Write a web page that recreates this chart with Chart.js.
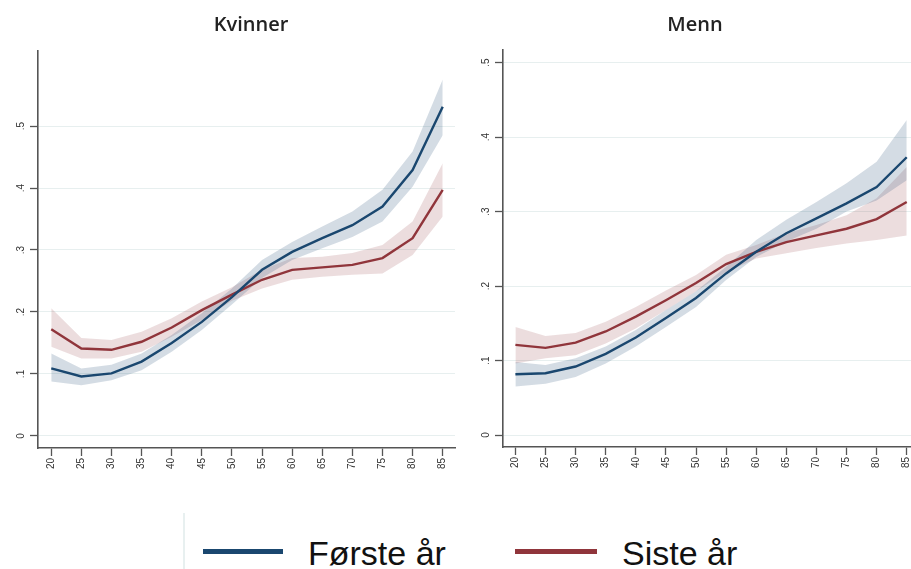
<!DOCTYPE html>
<html>
<head>
<meta charset="utf-8">
<script src="https://cdn.jsdelivr.net/npm/chart.js@4/dist/chart.umd.min.js"></script>
<style>
  html, body { margin: 0; padding: 0; background: #fff; }
  body { width: 911px; height: 569px; position: relative; overflow: hidden; }
  .cv { position: absolute; top: 0; }
  .title { position: absolute; font-family: "Open Sans", sans-serif; font-weight: 600; font-size: 20px; color: #222; white-space: nowrap; transform: translateX(-50%); }
  .legtxt { position: absolute; font-family: "Liberation Sans", Arial, sans-serif; font-size: 34px; color: #111; white-space: nowrap; line-height: 1; }
  .legline { position: absolute; height: 5px; }
  .divider { position: absolute; left: 183px; top: 513px; width: 2px; height: 56px; background: #e8f0f0; }
</style>
</head>
<body>
<div id="wl" class="cv" style="left:0;width:460px;height:480px;"><canvas id="cl"></canvas></div>
<div id="wr" class="cv" style="left:456px;width:455px;height:480px;"><canvas id="cr"></canvas></div>
<div class="title" style="left:251px;top:10px;">Kvinner</div>
<div class="title" style="left:695px;top:10px;">Menn</div>
<div class="divider"></div>
<div class="legline" style="left:203px;top:549px;width:80px;background:#1a476f;"></div>
<div class="legtxt" id="lt1" style="left:308px;top:536px;">Første år</div>
<div class="legline" style="left:515px;top:549px;width:82px;background:#90353b;"></div>
<div class="legtxt" id="lt2" style="left:622px;top:536px;">Siste år</div>
<script>
// ---- data ----
const ages = [20,25,30,35,40,45,50,55,60,65,70,75,80,85];
const xTickLabels = ['20','25','30','35','40','45','50','55','60','65','70','75','80','85'];
const yTickValues = [0,0.1,0.2,0.3,0.4,0.5];
const yTickLabels = ['0','.1','.2','.3','.4','.5'];
const seriesNames = ['Første år','Siste år'];
const panelTitles = ['Kvinner','Menn'];

// Kvinner
const kvForste   = [0.109,0.096,0.101,0.120,0.150,0.184,0.224,0.268,0.297,0.319,0.340,0.370,0.429,0.531];
const kvForsteLo = [0.088,0.082,0.090,0.106,0.136,0.171,0.212,0.255,0.284,0.303,0.321,0.346,0.402,0.485];
const kvForsteHi = [0.133,0.109,0.115,0.133,0.163,0.198,0.238,0.284,0.313,0.338,0.362,0.397,0.459,0.575];
const kvSiste    = [0.172,0.141,0.139,0.152,0.175,0.203,0.228,0.252,0.268,0.272,0.276,0.287,0.319,0.397];
const kvSisteLo  = [0.144,0.125,0.125,0.136,0.160,0.187,0.218,0.238,0.252,0.257,0.260,0.262,0.292,0.354];
const kvSisteHi  = [0.206,0.158,0.155,0.168,0.190,0.217,0.240,0.268,0.287,0.289,0.295,0.308,0.346,0.440];

// Menn
const mnForste   = [0.0815,0.083,0.092,0.109,0.131,0.157,0.184,0.217,0.246,0.271,0.291,0.311,0.333,0.373];
const mnForsteLo = [0.065,0.069,0.078,0.096,0.119,0.145,0.172,0.208,0.239,0.260,0.277,0.300,0.315,0.342];
const mnForsteHi = [0.098,0.094,0.103,0.119,0.141,0.168,0.193,0.226,0.262,0.289,0.313,0.338,0.367,0.423];
const mnSiste    = [0.121,0.117,0.124,0.139,0.159,0.181,0.204,0.2295,0.246,0.259,0.268,0.277,0.290,0.313];
const mnSisteLo  = [0.096,0.103,0.107,0.123,0.143,0.168,0.193,0.219,0.237,0.244,0.251,0.257,0.262,0.268];
const mnSisteHi  = [0.145,0.133,0.137,0.152,0.172,0.194,0.215,0.242,0.255,0.271,0.282,0.295,0.318,0.360];

// ---- styles ----
const BLUE = '#1a476f', RED = '#90353b';
const BLUE_BAND = 'rgba(26,71,111,0.19)', RED_BAND = 'rgba(144,53,59,0.17)';
const AXIS = '#555';

const pts = arr => arr.map((v,i) => ({x: ages[i], y: v}));

function makeChart(id, d, cfg) {
  const datasets = [
    {label: seriesNames[0], data: pts(d.f), borderColor: BLUE, borderWidth: 2.4, pointRadius: 0, fill: false, tension: 0},
    {label: seriesNames[1], data: pts(d.s), borderColor: RED, borderWidth: 2.4, pointRadius: 0, fill: false, tension: 0},
    {label: 'fHi', data: pts(d.fHi), borderWidth: 0, borderColor: 'rgba(0,0,0,0)', backgroundColor: BLUE_BAND, pointRadius: 0, fill: '+1', tension: 0},
    {label: 'fLo', data: pts(d.fLo), borderWidth: 0, borderColor: 'rgba(0,0,0,0)', pointRadius: 0, fill: false, tension: 0},
    {label: 'sHi', data: pts(d.sHi), borderWidth: 0, borderColor: 'rgba(0,0,0,0)', backgroundColor: RED_BAND, pointRadius: 0, fill: '+1', tension: 0},
    {label: 'sLo', data: pts(d.sLo), borderWidth: 0, borderColor: 'rgba(0,0,0,0)', pointRadius: 0, fill: false, tension: 0}
  ];
  return new Chart(document.getElementById(id), {
    type: 'line',
    data: {datasets},
    options: {
      responsive: true, maintainAspectRatio: false, animation: false,
      events: [],
      layout: {padding: {left: 0, right: cfg.padRight, top: cfg.padTop, bottom: 0}},
      plugins: {legend: {display: false}, title: {display: false}, tooltip: {enabled: false}},
      scales: {
        x: {
          type: 'linear', min: cfg.xmin, max: cfg.xmax,
          afterBuildTicks: s => { s.ticks = ages.map(v => ({value: v})); },
          afterFit: s => { s.height = cfg.xHeight; s.paddingLeft = 0; s.paddingRight = 0; },
          ticks: {minRotation: 90, maxRotation: 90, autoSkip: false, padding: 2, color: '#333',
                  font: {family: 'Liberation Sans', size: 10},
                  callback: (v, i) => xTickLabels[i]},
          grid: {color: 'rgba(0,0,0,0)', tickColor: AXIS, tickLength: 8, tickWidth: 1.3, drawOnChartArea: false},
          border: {color: AXIS, width: 1.6}
        },
        y: {
          type: 'linear', min: cfg.ymin, max: cfg.ymax,
          afterBuildTicks: s => { s.ticks = yTickValues.map(v => ({value: v})); },
          afterFit: s => { s.width = cfg.yWidth; s.paddingTop = 0; s.paddingBottom = 0; },
          ticks: {minRotation: 90, maxRotation: 90, crossAlign: 'center', padding: 5, color: '#333',
                  font: {family: 'Liberation Sans', size: 10},
                  callback: (v, i) => yTickLabels[i]},
          grid: {color: '#e7efef', lineWidth: 1, tickColor: AXIS, tickLength: 8, tickWidth: 1.3},
          border: {color: AXIS, width: 1.6}
        }
      }
    }
  });
}

makeChart('cl', {f: kvForste, fLo: kvForsteLo, fHi: kvForsteHi, s: kvSiste, sLo: kvSisteLo, sHi: kvSisteHi},
  {xmin: 17.8, xmax: 87.04, ymin: -0.0194, ymax: 0.621, padTop: 51, padRight: 5, yWidth: 38, xHeight: 32});
makeChart('cr', {f: mnForste, fLo: mnForsteLo, fHi: mnForsteHi, s: mnSiste, sLo: mnSisteLo, sHi: mnSisteHi},
  {xmin: 17.94, xmax: 85.71, ymin: -0.0161, ymax: 0.517, padTop: 50, padRight: 0, yWidth: 47, xHeight: 33});
</script>
</body>
</html>
